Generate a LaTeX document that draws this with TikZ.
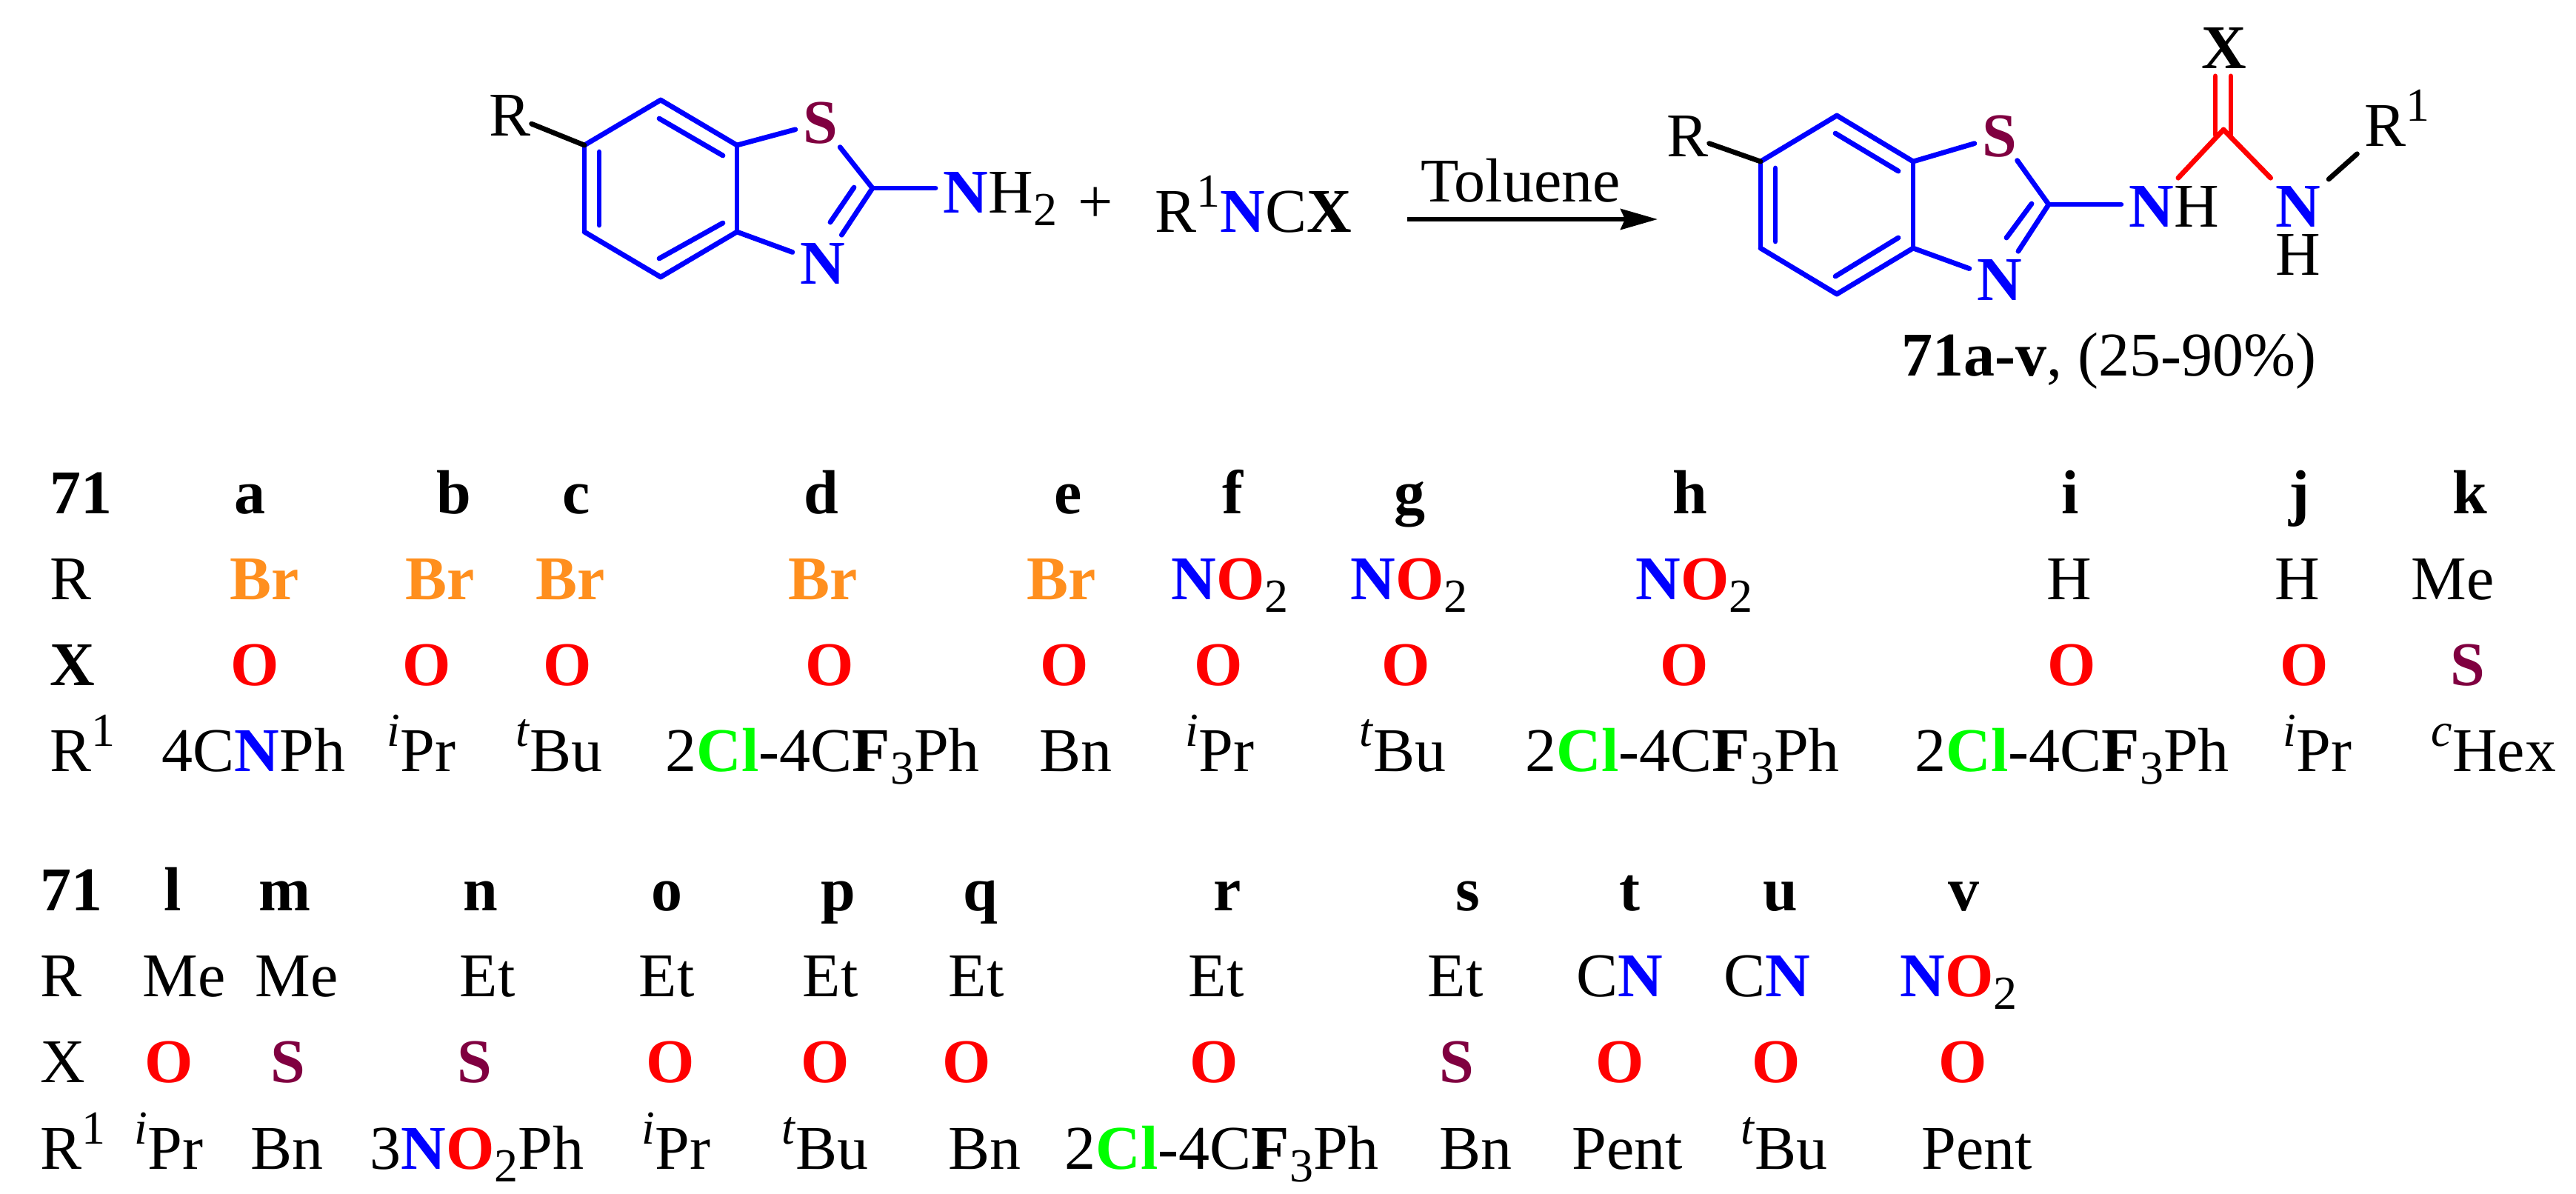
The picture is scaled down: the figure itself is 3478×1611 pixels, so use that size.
\documentclass[tikz,border=0pt]{standalone}
\usepackage{fontspec}
\usetikzlibrary{arrows.meta}
\setmainfont{Liberation Serif}
\definecolor{nblue}{RGB}{0,0,255}
\definecolor{ored}{RGB}{255,0,0}
\definecolor{smaroon}{RGB}{128,0,64}
\definecolor{brorange}{RGB}{255,143,30}
\definecolor{clgreen}{RGB}{0,255,0}
\newcommand{\Nn}{\textcolor{nblue}{\textbf{N}}}
\newcommand{\Oo}{\textcolor{ored}{\textbf{O}}}
\newcommand{\Ss}{\textcolor{smaroon}{\textbf{S}}}
\newcommand{\Brr}{\textcolor{brorange}{\textbf{Br}}}
\newcommand{\Cll}{\textcolor{clgreen}{\textbf{Cl}}}
\newcommand{\lowr}[1]{\raisebox{-4.3pt}{\fontsize{16}{16}\selectfont #1}}
\newcommand{\upr}[1]{\raisebox{8.3pt}{\fontsize{16}{16}\selectfont #1}}
\newcommand{\Rone}{R\upr{1}}
\newcommand{\Ntwo}{\Nn\Oo\lowr{2}}
\newcommand{\Ipr}{\upr{\textit{i}}Pr}
\newcommand{\Tbu}{\upr{\textit{t}}Bu}
\newcommand{\Clph}{2\Cll-4C\textbf{F}\lowr{3}Ph}
\tikzset{
  cell/.style={anchor=base west,inner sep=0pt},
  atom/.style={anchor=base,inner sep=2.5pt},
  satom/.style={atom,inner ysep=1pt},
  bond/.style={draw=nblue,line width=1.7pt,line cap=round},
  rbond/.style={bond,draw=ored},
  kbond/.style={bond,draw=black}
}
\begin{document}
\begin{tikzpicture}[x=0.25pt,y=-0.25pt,font=\fontsize{21}{21}\selectfont]
  \useasboundingbox (0,0) rectangle (3478,1611);
  % reactant
  \draw
    (892,135) coordinate (a1)
    (995,196) coordinate (a2)
    (995,313) coordinate (a3)
    (892,374) coordinate (a4)
    (789,313) coordinate (a5)
    (789,196) coordinate (a6)
    (1178,254) coordinate (a7)
    (809,205) coordinate (a8)
    (809,304) coordinate (a9)
    (890,160) coordinate (a10)
    (976,210) coordinate (a11)
    (976,301) coordinate (a12)
    (890,349) coordinate (a13)
    (1121,300) coordinate (a14)
    (1153,253) coordinate (a15)
    (1108,193) node[satom] (as){\Ss}
    (1111,383) node[atom] (an){\Nn}
    (660,183) node[cell] (ar){R}
    (1263,287) node[atom,anchor=base west] (anh){\Nn H\lowr{2}}
    (1479,277) node[inner sep=0pt] (plus){+}
    (1559,313) node[cell] (iso){\Rone\Nn C\textbf{X}};
  \begin{scope}[bond]
    \draw (a1) to (a2);
    \draw (a2) to (a3);
    \draw (a3) to (a4);
    \draw (a4) to (a5);
    \draw (a5) to (a6);
    \draw (a6) to (a1);
    \draw (a8) to (a9);
    \draw (a10) to (a11);
    \draw (a12) to (a13);
    \draw (a2) to (as);
    \draw (as) to (a7);
    \draw (a7) to (an);
    \draw (a14) to (a15);
    \draw (a3) to (an);
    \draw (a7) to (a7 -| anh.west);
  \end{scope}
  \draw[kbond] (ar) to (a6);
  % arrow
  \draw
    (1900,296) coordinate (w1)
    (2238,296) coordinate (w2)
    (2053,272) node[anchor=base] (solv){Toluene};
  \draw[line width=1.5pt,-{Stealth[length=12.5pt,width=7pt,inset=1.5pt]}] (w1) to (w2);
  % product
  \draw
    (2480,156) coordinate (b1)
    (2583,218) coordinate (b2)
    (2583,335) coordinate (b3)
    (2480,397) coordinate (b4)
    (2377,335) coordinate (b5)
    (2377,218) coordinate (b6)
    (2766,276) coordinate (b7)
    (2397,227) coordinate (b8)
    (2397,326) coordinate (b9)
    (2478,180) coordinate (b10)
    (2563,231) coordinate (b11)
    (2563,321) coordinate (b12)
    (2478,373) coordinate (b13)
    (2709,321) coordinate (b14)
    (2743,275) coordinate (b15)
    (3002,175) coordinate (b16)
    (2991,182) coordinate (b17)
    (3012,182) coordinate (b18)
    (2700,211) node[satom] (bs){\Ss}
    (2700,405) node[atom] (bn){\Nn}
    (2250,211) node[cell] (br){R}
    (2905,306) node[atom] (bnh){\Nn}
    (2935,306) node[cell] (bhh){H}
    (3003,92) node[atom] (bx){\textbf{X}}
    (3103,306) node[atom] (bnr){\Nn}
    (3103,371) node[atom] (bh){H}
    (3182,197) node[atom,anchor=base west] (brr){\Rone}
    (2567,507) node[cell] (yield){\textbf{71a-v}, (25-90\%)};
  \begin{scope}[bond]
    \draw (b1) to (b2);
    \draw (b2) to (b3);
    \draw (b3) to (b4);
    \draw (b4) to (b5);
    \draw (b5) to (b6);
    \draw (b6) to (b1);
    \draw (b8) to (b9);
    \draw (b10) to (b11);
    \draw (b12) to (b13);
    \draw (b2) to (bs);
    \draw (bs) to (b7);
    \draw (b7) to (bn);
    \draw (b14) to (b15);
    \draw (b3) to (bn);
    \draw (b7) to (b7 -| bnh.west);
  \end{scope}
  \begin{scope}[rbond]
    \draw (b16) to (bnh);
    \draw (b16) to (bnr);
    \draw (b17) to (b17 |- bx.south);
    \draw (b18) to (b18 |- bx.south);
  \end{scope}
  \draw[kbond] (bnr) to (brr);
  \draw[kbond] (br) to (b6);
  % first table
  \draw[font=\fontsize{21}{21}\selectfont\bfseries]
    (67,693) node[cell] (tha){71}
    (316,693) node[cell] (a){a}
    (589,693) node[cell] (b){b}
    (759,693) node[cell] (c){c}
    (1085,693) node[cell] (d){d}
    (1423,693) node[cell] (e){e}
    (1650,693) node[cell] (f){f}
    (1882,693) node[cell] (g){g}
    (2258,693) node[cell] (h){h}
    (2783,693) node[cell] (i){i}
    (3090,693) node[cell] (j){j}
    (3311,693) node[cell] (k){k};
  \draw
    (67,809) node[cell] (tra){R}
    (310,809) node[cell] (ra){\Brr}
    (547,809) node[cell] (rb){\Brr}
    (723,809) node[cell] (rc){\Brr}
    (1064,809) node[cell] (rd){\Brr}
    (1386,809) node[cell] (re){\Brr}
    (1581,809) node[cell] (rf){\Ntwo}
    (1823,809) node[cell] (rg){\Ntwo}
    (2208,809) node[cell] (rh){\Ntwo}
    (2763,809) node[cell] (ri){H}
    (3071,809) node[cell] (rj){H}
    (3255,809) node[cell] (rk){Me};
  \draw
    (67,925) node[cell] (txa){\textbf{X}}
    (311,925) node[cell] (xa){\Oo}
    (543,925) node[cell] (xb){\Oo}
    (733,925) node[cell] (xc){\Oo}
    (1087,925) node[cell] (xd){\Oo}
    (1404,925) node[cell] (xe){\Oo}
    (1612,925) node[cell] (xf){\Oo}
    (1865,925) node[cell] (xg){\Oo}
    (2241,925) node[cell] (xh){\Oo}
    (2764,925) node[cell] (xi){\Oo}
    (3078,925) node[cell] (xj){\Oo}
    (3308,925) node[cell] (xk){\Ss};
  \draw
    (67,1041) node[cell] (tqa){\Rone}
    (218,1041) node[cell] (qa){4C\Nn Ph}
    (522,1041) node[cell] (qb){\Ipr}
    (696,1041) node[cell] (qc){\Tbu}
    (898,1041) node[cell] (qd){\Clph}
    (1403,1041) node[cell] (qe){Bn}
    (1600,1041) node[cell] (qf){\Ipr}
    (1835,1041) node[cell] (qg){\Tbu}
    (2059,1041) node[cell] (qh){\Clph}
    (2585,1041) node[cell] (qi){\Clph}
    (3082,1041) node[cell] (qj){\Ipr}
    (3282,1041) node[cell] (qk){\upr{\textit{c}}Hex};
  % second table
  \draw[font=\fontsize{21}{21}\selectfont\bfseries]
    (54,1229) node[cell] (thb){71}
    (221,1229) node[cell] (l){l}
    (349,1229) node[cell] (m){m}
    (625,1229) node[cell] (n){n}
    (879,1229) node[cell] (o){o}
    (1108,1229) node[cell] (p){p}
    (1300,1229) node[cell] (q){q}
    (1638,1229) node[cell] (r){r}
    (1965,1229) node[cell] (s){s}
    (2186,1229) node[cell] (t){t}
    (2380,1229) node[cell] (u){u}
    (2630,1229) node[cell] (v){v};
  \draw
    (54,1345) node[cell] (trb){R}
    (192,1345) node[cell] (rl){Me}
    (344,1345) node[cell] (rm){Me}
    (620,1345) node[cell] (rn){Et}
    (862,1345) node[cell] (ro){Et}
    (1083,1345) node[cell] (rp){Et}
    (1280,1345) node[cell] (rq){Et}
    (1604,1345) node[cell] (rr){Et}
    (1927,1345) node[cell] (rs){Et}
    (2128,1345) node[cell] (rt){C\Nn}
    (2327,1345) node[cell] (ru){C\Nn}
    (2565,1345) node[cell] (rv){\Ntwo};
  \draw
    (54,1461) node[cell] (txb){X}
    (195,1461) node[cell] (xl){\Oo}
    (365,1461) node[cell] (xm){\Ss}
    (617,1461) node[cell] (xn){\Ss}
    (872,1461) node[cell] (xo){\Oo}
    (1081,1461) node[cell] (xp){\Oo}
    (1272,1461) node[cell] (xq){\Oo}
    (1606,1461) node[cell] (xr){\Oo}
    (1943,1461) node[cell] (xs){\Ss}
    (2154,1461) node[cell] (xt){\Oo}
    (2365,1461) node[cell] (xu){\Oo}
    (2617,1461) node[cell] (xv){\Oo};
  \draw
    (54,1578) node[cell] (tqb){\Rone}
    (181,1578) node[cell] (ql){\Ipr}
    (338,1578) node[cell] (qm){Bn}
    (499,1578) node[cell] (qn){3\Nn\Oo\lowr{2}Ph}
    (866,1578) node[cell] (qo){\Ipr}
    (1055,1578) node[cell] (qp){\Tbu}
    (1280,1578) node[cell] (qq){Bn}
    (1437,1578) node[cell] (qr){\Clph}
    (1943,1578) node[cell] (qs){Bn}
    (2122,1578) node[cell] (qt){Pent}
    (2350,1578) node[cell] (qu){\Tbu}
    (2594,1578) node[cell] (qv){Pent};
\end{tikzpicture}
\end{document}
